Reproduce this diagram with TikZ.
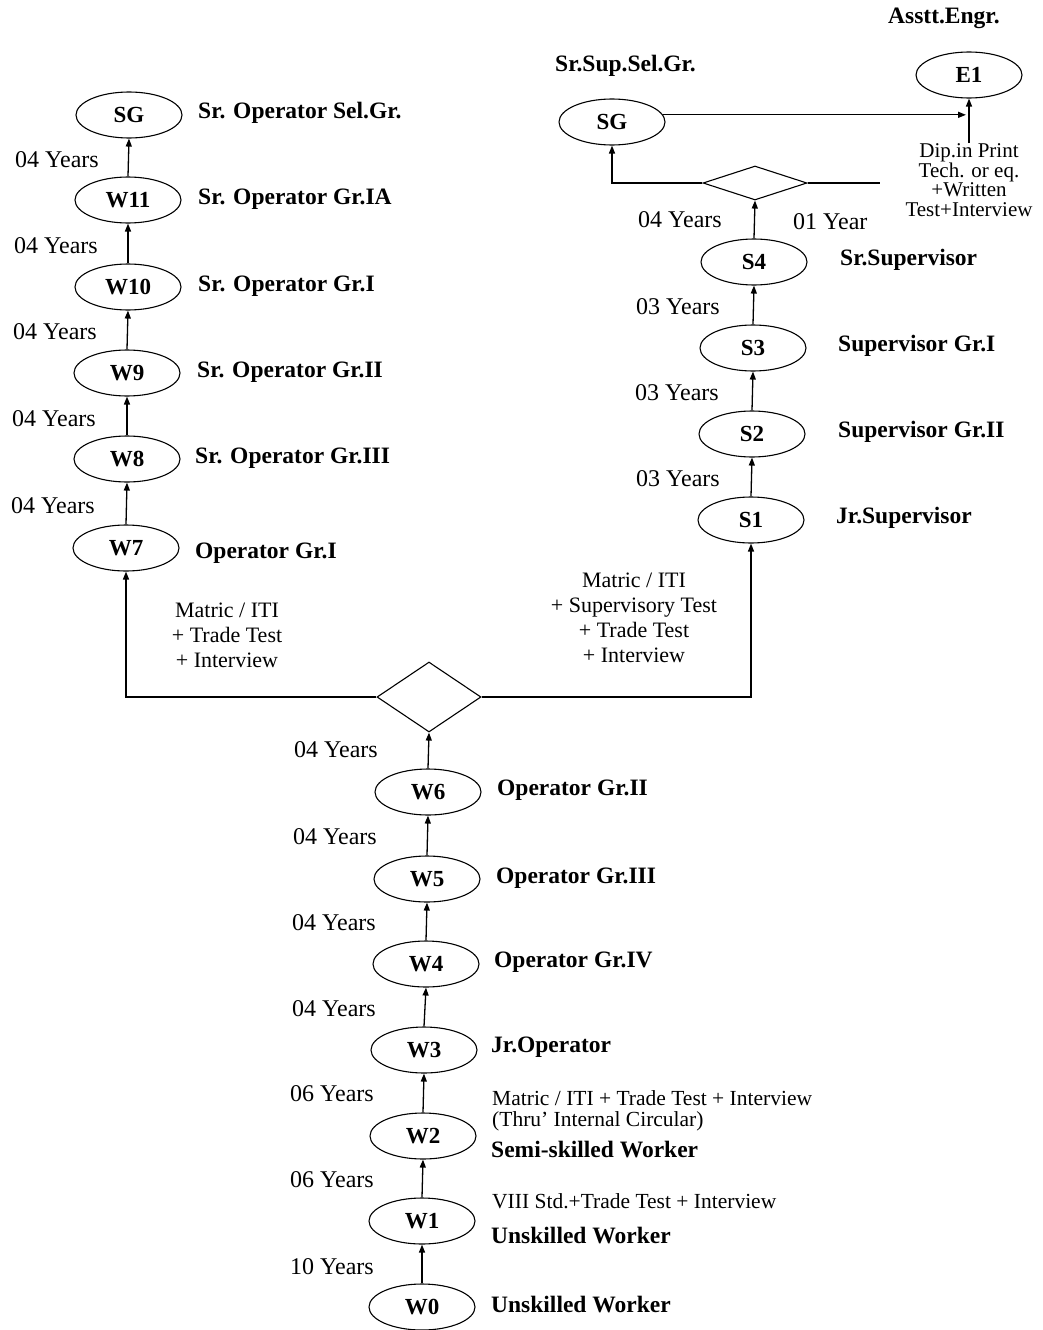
\documentclass[tikz,border=0pt]{standalone}
\usepackage{fontspec}
\setmainfont{Liberation Serif}
\usetikzlibrary{arrows.meta,shapes.geometric}
\begin{document}
\begin{tikzpicture}[x=1pt,y=-1pt,
  st/.style={ellipse,draw,line width=1.1pt,minimum width=106pt,minimum height=46pt,inner sep=0pt,font=\fontsize{23}{23}\selectfont\bfseries},
  lab/.style={anchor=west,inner sep=0pt,font=\fontsize{23.5}{23.5}\selectfont\bfseries},
  yrs/.style={anchor=west,inner sep=0pt,font=\fontsize{24}{24}\selectfont},
  note/.style={align=center,inner sep=0pt,font=\fontsize{22}{25}\selectfont},
  small/.style={anchor=west,inner sep=0pt,font=\fontsize{21.5}{23}\selectfont},
  arr/.style={-{Triangle[length=8pt,width=6pt]},line width=1.3pt},
  ln/.style={line width=1.3pt},
  dia/.style={diamond,draw,line width=1.1pt,inner sep=0pt}]
\useasboundingbox (0,0) rectangle (1042,1330);

% left column
\node[st] (SGL) at (129,115) {SG};
\node[st] (W11) at (128,200) {W11};
\node[st] (W10) at (128,287) {W10};
\node[st] (W9) at (127,373) {W9};
\node[st] (W8) at (127,459) {W8};
\node[st] (W7) at (126,548) {W7};
\node[lab] (lSGL) at (198,113) {Sr. Operator Sel.Gr.};
\node[lab] (lW11) at (198,199) {Sr. Operator Gr.IA};
\node[lab] (lW10) at (198,286) {Sr. Operator Gr.I};
\node[lab] (lW9) at (197,372) {Sr. Operator Gr.II};
\node[lab] (lW8) at (195,458) {Sr. Operator Gr.III};
\node[lab] (lW7) at (195,553) {Operator Gr.I};
\node[yrs] (y1) at (15,160) {04 Years};
\node[yrs] (y2) at (14,246) {04 Years};
\node[yrs] (y3) at (13,332) {04 Years};
\node[yrs] (y4) at (12,419) {04 Years};
\node[yrs] (y5) at (11,506) {04 Years};
\draw[arr] (W11.north) -- (SGL.south);
\draw[arr] (W10.north) -- (W11.south);
\draw[arr] (W9.north) -- (W10.south);
\draw[arr] (W8.north) -- (W9.south);
\draw[arr] (W7.north) -- (W8.south);

% branch diamond
\node[dia,minimum width=104pt,minimum height=70pt] (D1) at (429,697) {};
\draw[arr] (D1.west) -| (W7.south);
\node[note] (n1) at (227,635) {Matric / ITI\\+ Trade Test\\+ Interview};
\node[note] (n2) at (634,618) {Matric / ITI\\+ Supervisory Test\\+ Trade Test\\+ Interview};

% bottom column
\node[st] (W6) at (428,792) {W6};
\node[st] (W5) at (427,879) {W5};
\node[st] (W4) at (426,964) {W4};
\node[st] (W3) at (424,1050) {W3};
\node[st] (W2) at (423,1136) {W2};
\node[st] (W1) at (422,1221) {W1};
\node[st] (W0) at (422,1307) {W0};
\node[lab] (lW6) at (497,790) {Operator Gr.II};
\node[lab] (lW5) at (496,878) {Operator Gr.III};
\node[lab] (lW4) at (494,962) {Operator Gr.IV};
\node[lab] (lW3) at (491,1047) {Jr.Operator};
\node[small] (q2a) at (492,1098) {Matric / ITI + Trade Test + Interview};
\node[small] (q2b) at (492,1121) {(Thru' Internal Circular)};
\node[lab] (lW2) at (491,1150) {Semi-skilled Worker};
\node[small] (q1) at (492,1201) {VIII Std.+Trade Test + Interview};
\node[lab] (lW1) at (491,1236) {Unskilled Worker};
\node[lab] (lW0) at (491,1305) {Unskilled Worker};
\node[yrs] (b1) at (294,750) {04 Years};
\node[yrs] (b2) at (293,837) {04 Years};
\node[yrs] (b3) at (292,923) {04 Years};
\node[yrs] (b4) at (292,1009) {04 Years};
\node[yrs] (b5) at (290,1094) {06 Years};
\node[yrs] (b6) at (290,1180) {06 Years};
\node[yrs] (b7) at (290,1267) {10 Years};
\draw[arr] (W6.north) -- (D1.south);
\draw[arr] (W5.north) -- (W6.south);
\draw[arr] (W4.north) -- (W5.south);
\draw[arr] (W3.north) -- (W4.south);
\draw[arr] (W2.north) -- (W3.south);
\draw[arr] (W1.north) -- (W2.south);
\draw[arr] (W0.north) -- (W1.south);

% right column
\node[st] (S1) at (751,520) {S1};
\node[st] (S2) at (752,434) {S2};
\node[st] (S3) at (753,348) {S3};
\node[st] (S4) at (754,262) {S4};
\node[lab] (lS1) at (836,518) {Jr.Supervisor};
\node[lab] (lS2) at (838,432) {Supervisor Gr.II};
\node[lab] (lS3) at (838,346) {Supervisor Gr.I};
\node[lab] (lS4) at (840,260) {Sr.Supervisor};
\node[yrs] (r1) at (636,479) {03 Years};
\node[yrs] (r2) at (635,393) {03 Years};
\node[yrs] (r3) at (636,307) {03 Years};
\node[yrs] (r4) at (638,220) {04 Years};
\node[yrs] (r5) at (793,222) {01 Year};
\draw[arr] (D1.east) -| (S1.south);
\draw[arr] (S1.north) -- (S2.south);
\draw[arr] (S2.north) -- (S3.south);
\draw[arr] (S3.north) -- (S4.south);

% top right
\node[dia,minimum width=104pt,minimum height=34pt] (D2) at (755,183) {};
\node[st] (SGR) at (612,122) {SG};
\node[lab] (lSGR) at (555,66) {Sr.Sup.Sel.Gr.};
\node[st] (E1) at (969,75) {E1};
\node[lab] (lE1) at (888,18) {Asstt.Engr.};
\node[note,font=\fontsize{21}{19.7}\selectfont] (dip) at (969,180) {Dip.in Print\\Tech. or eq.\\+Written\\Test+Interview};
\coordinate (J) at (966,117);
\coordinate (Dend) at (880,183);
\draw[arr] (S4.north) -- (D2.south);
\draw[arr] (D2.west) -| (SGR.south);
\draw[ln] (D2.east) -- (Dend);
\draw[arr] (SGR.8) -- (SGR.8 -| J);
\draw[arr] (dip.north) -- (E1.south);
\end{tikzpicture}
\end{document}
